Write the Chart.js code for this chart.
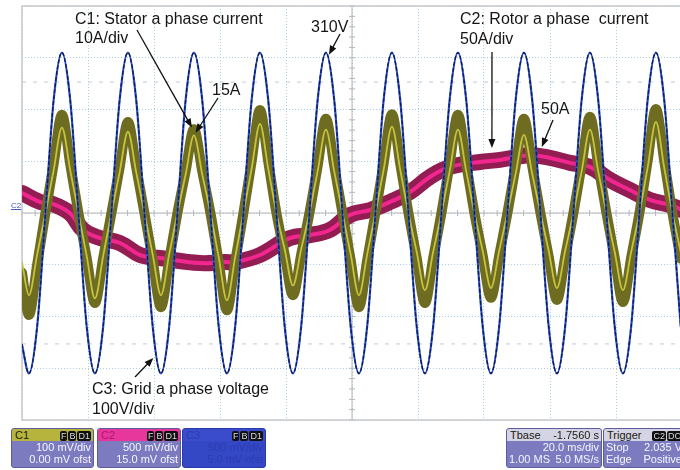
<!DOCTYPE html>
<html>
<head>
<meta charset="utf-8">
<script src="https://cdn.jsdelivr.net/npm/chart.js@4.4.1/dist/chart.umd.min.js"></script>
<style>
  html, body { margin: 0; padding: 0; background: #fff; }
  #wrap { position: relative; width: 680px; height: 470px; overflow: hidden; font-family: "Liberation Sans", Arial, sans-serif; }
  #scope { position: absolute; left: 0; top: 0; }
  .note { position: absolute; font-size: 16px; line-height: 19px; color: #151515; white-space: pre; }
  .mark { position: absolute; left: 11px; top: 201px; font-size: 8px; color: #4656c4; text-decoration: underline; }
  .box { position: absolute; top: 428px; height: 38px; border-radius: 3px; background: #7c7bc0; border: 1px solid #5d5c9c; overflow: hidden; color: #f6f6ff; font-size: 11px; }
  .box .hd { position: relative; height: 12px; line-height: 12px; padding-left: 3px; color: #1c1c10; }
  .box .row { position: relative; height: 12px; line-height: 12px; padding: 0 2px; text-align: right; white-space: nowrap; }
  .box .row:first-of-type { margin-top: 2px; }
  .box .l { position: absolute; left: 2px; }
  .badges { position: absolute; right: 2px; top: 1px; line-height: 10px; }
  .badges span { display: inline-block; background: #111; color: #d8d8d8; border-radius: 2px; padding: 0 1px; font-size: 9px; margin-left: 1px; }
</style>
</head>
<body>
<div id="wrap">
  <canvas id="scope" width="690" height="470"></canvas>

  <div class="note" style="left:75px; top:9px;">C1: Stator a phase current
10A/div</div>
  <div class="note" style="left:311px; top:17px;">310V</div>
  <div class="note" style="left:212px; top:80px;">15A</div>
  <div class="note" style="left:460px; top:9px; line-height:20px;">C2: Rotor a phase  current
50A/div</div>
  <div class="note" style="left:541px; top:99px;">50A</div>
  <div class="note" style="left:92px; top:379px; line-height:20px;">C3: Grid a phase voltage
100V/div</div>
  <div class="mark">C2</div>

  <div class="box" style="left:11px; width:81px;">
    <div class="hd" style="background:#b6b43c;">C1<div class="badges"><span>F</span><span>B</span><span>D1</span></div></div>
    <div class="row">100 mV/div</div>
    <div class="row">0.00 mV ofst</div>
  </div>
  <div class="box" style="left:97px; width:82px;">
    <div class="hd" style="background:#e8379c; color:#b01470;">C2<div class="badges"><span>F</span><span>B</span><span>D1</span></div></div>
    <div class="row">500 mV/div</div>
    <div class="row">15.0 mV ofst</div>
  </div>
  <div class="box" style="left:182px; width:82px; background:#3447c4; border-color:#2a3aa8; color:#2c3db2;">
    <div class="hd" style="background:#3a4ccc; color:#2c3db2;">C3<div class="badges"><span>F</span><span>B</span><span>D1</span></div></div>
    <div class="row">500 mV/div</div>
    <div class="row">5.0 mV ofst</div>
  </div>
  <div class="box" style="left:506px; width:94px;">
    <div class="hd" style="background:#d4d4e4;">Tbase<span style="position:absolute; right:2px;">-1.7560 s</span></div>
    <div class="row">20.0 ms/div</div>
    <div class="row"><span class="l">1.00 MS</span>5.0 MS/s</div>
  </div>
  <div class="box" style="left:603px; width:80px;">
    <div class="hd" style="background:#d4d4e4;">Trigger<div class="badges"><span>C2</span><span>DC</span></div></div>
    <div class="row"><span class="l">Stop</span>2.035 V</div>
    <div class="row"><span class="l">Edge</span>Positive</div>
  </div>
</div>

<script>
// sample instants in ms (20 ms/div, 10 div on screen)
const sampleTimes = [0,
  2.1, 4.6, 7.1, 9.6, 12.1, 14.6, 17.1, 19.6,
  22.1, 24.6, 27.1, 29.6, 32.1, 34.6, 37.1, 39.6,
  42.1, 44.6, 47.1, 49.6, 52.1, 54.6, 57.1, 59.6,
  62.1, 64.6, 67.1, 69.6, 72.1, 74.6, 77.1, 79.6,
  82.1, 84.6, 87.1, 89.6, 92.1, 94.6, 97.1, 99.6,
  102.1, 104.6, 107.1, 109.6, 112.1, 114.6, 117.1, 119.6,
  122.1, 124.6, 127.1, 129.6, 132.1, 134.6, 137.1, 139.6,
  142.1, 144.6, 147.1, 149.6, 152.1, 154.6, 157.1, 159.6,
  162.1, 164.6, 167.1, 169.6, 172.1, 174.6, 177.1, 179.6,
  182.1, 184.6, 187.1, 189.6, 192.1, 194.6, 197.1, 199.6];

// C3 grid a phase voltage (V)
const gridVoltage = [-255,
  -310, -219, 0, 219, 310, 219, 0, -219,
  -310, -219, 0, 219, 310, 219, 0, -219,
  -310, -219, 0, 219, 310, 219, 0, -219,
  -310, -219, 0, 219, 310, 219, 0, -219,
  -310, -219, 0, 219, 310, 219, 0, -219,
  -310, -219, 0, 219, 310, 219, 0, -219,
  -310, -219, 0, 219, 310, 219, 0, -219,
  -310, -219, 0, 219, 310, 219, 0, -219,
  -310, -219, 0, 219, 310, 219, 0, -219,
  -310, -219, 0, 219, 310, 219, 0, -219];

// C1 stator a phase current (A), latest trace
const statorCurrent = [-9.5,
  -15.9, -8.0, 0, 8.3, 16.5, 8.3, 0, -8.3,
  -16.5, -8.3, 0, 7.9, 15.7, 7.9, 0, -8.0,
  -15.9, -8.0, 0, 7.5, 15.0, 7.5, 0, -8.5,
  -16.9, -8.5, 0, 8.6, 17.2, 8.6, 0, -7.0,
  -14.0, -7.0, 0, 8.1, 16.1, 8.1, 0, -8.0,
  -15.9, -8.0, 0, 8.4, 16.7, 8.4, 0, -7.5,
  -14.9, -7.5, 0, 8.1, 16.1, 8.1, 0, -7.3,
  -14.5, -7.3, 0, 7.6, 15.1, 7.6, 0, -7.3,
  -14.5, -7.3, 0, 8.1, 16.1, 8.1, 0, -7.5,
  -14.9, -7.5, 0, 8.8, 17.6, 8.8, 0, -7.5];

// C1 persistence band (A), centre of the noisy envelope
const statorEnvelope = [-11.5,
  -19.7, -9.9, 0, 9.5, 19.0, 9.5, 0, -8.7,
  -17.4, -8.7, 0, 8.8, 17.6, 8.8, 0, -9.1,
  -18.2, -9.1, 0, 8.1, 16.2, 8.1, 0, -9.4,
  -18.8, -9.4, 0, 10.0, 19.9, 10.0, 0, -8.0,
  -15.9, -8.0, 0, 9.1, 18.2, 9.1, 0, -9.1,
  -18.2, -9.1, 0, 9.6, 19.1, 9.6, 0, -8.7,
  -17.4, -8.7, 0, 9.5, 19.0, 9.5, 0, -8.2,
  -16.4, -8.2, 0, 9.1, 18.2, 9.1, 0, -8.4,
  -16.8, -8.4, 0, 9.3, 18.6, 9.3, 0, -8.6,
  -17.2, -8.6, 0, 10.1, 20.1, 10.1, 0, -8.8];

// C2 rotor a phase current (A), slip frequency
const rotorTimes = [0, 5.5, 8.5, 14.5, 18.5, 23.6, 29.7, 35.8, 41.8, 53.9, 61.5, 64.5,
  72.1, 81.2, 87.3, 93.3, 99.4, 105.5, 111.5, 117.6, 123.6, 129.7, 138.8, 144.8,
  153.9, 160.0, 166.1, 172.1, 178.2, 184.2, 190.3, 196.4, 200];
const rotorCurrent = [13.5, 4.8, 3.9, -5.8, -22.2, -30.0, -34.8, -46.4, -49.3, -54.2, -53.2, -53.2,
  -46.4, -30.0, -27.1, -22.2, -7.7, -2.9, 4.8, 14.5, 29.0, 38.7, 43.5, 45.5,
  50.0, 47.4, 42.6, 38.7, 26.1, 16.4, 6.8, 1.9, -2.9];

// cursor levels on C3 (V)
const cursorLevels = [-253, 253];

const zip = (xs, ys) => xs.map((x, i) => ({ x, y: ys[i] }));

// callout arrows: tail in canvas px, head on a trace value
const pointers = [
  { from: [137, 30], t: 51.5, v: 16.5, axis: 'yS' },
  { from: [218, 98], t: 52.6, v: 15.5, axis: 'yS' },
  { from: [340, 34], t: 93.0, v: 306, axis: 'yV' },
  { from: [492, 52], t: 142.4, v: 57, axis: 'yR' },
  { from: [553, 120], t: 157.5, v: 58, axis: 'yR' },
  { from: [135, 377], t: 39.8, v: -280, axis: 'yV' }
];

const scopeScreen = {
  id: 'scopeScreen',
  beforeDatasetsDraw(chart) {
    const { ctx, chartArea: a, scales } = chart;
    const cx = scales.x.getPixelForValue(100);
    const cy = scales.yV.getPixelForValue(0);
    ctx.save();
    ctx.lineWidth = 1;
    ctx.strokeStyle = '#b2b6ba';
    ctx.beginPath();
    ctx.moveTo(a.left, cy); ctx.lineTo(a.right, cy);
    ctx.moveTo(cx, a.top); ctx.lineTo(cx, a.bottom);
    // five minor ticks per division on the centre cross
    for (let t = 0; t <= 200; t += 4) {
      const px = scales.x.getPixelForValue(t);
      ctx.moveTo(px, cy - 3); ctx.lineTo(px, cy + 3);
    }
    for (let v = -400; v <= 400; v += 20) {
      const py = scales.yV.getPixelForValue(v);
      ctx.moveTo(cx - 3, py); ctx.lineTo(cx + 3, py);
    }
    ctx.stroke();

    ctx.setLineDash([4, 7]);
    ctx.strokeStyle = '#c2cad4';
    cursorLevels.forEach(v => {
      const py = scales.yV.getPixelForValue(v);
      ctx.beginPath();
      ctx.moveTo(a.left, py); ctx.lineTo(a.right, py);
      ctx.stroke();
    });
    ctx.setLineDash([]);

    ctx.strokeStyle = '#c6c8ca';
    ctx.lineWidth = 1.5;
    ctx.strokeRect(a.left, a.top, a.width, a.height);
    ctx.restore();
  },
  afterDatasetsDraw(chart) {
    const { ctx, scales } = chart;
    ctx.save();
    ctx.strokeStyle = '#111';
    ctx.fillStyle = '#111';
    ctx.lineWidth = 1.3;
    pointers.forEach(p => {
      const [x0, y0] = p.from;
      const x1 = scales.x.getPixelForValue(p.t);
      const y1 = scales[p.axis].getPixelForValue(p.v);
      const ang = Math.atan2(y1 - y0, x1 - x0);
      ctx.beginPath();
      ctx.moveTo(x0, y0);
      ctx.lineTo(x1 - 6 * Math.cos(ang), y1 - 6 * Math.sin(ang));
      ctx.stroke();
      ctx.beginPath();
      ctx.moveTo(x1, y1);
      ctx.lineTo(x1 - 9 * Math.cos(ang) + 3.5 * Math.sin(ang), y1 - 9 * Math.sin(ang) - 3.5 * Math.cos(ang));
      ctx.lineTo(x1 - 9 * Math.cos(ang) - 3.5 * Math.sin(ang), y1 - 9 * Math.sin(ang) + 3.5 * Math.cos(ang));
      ctx.closePath();
      ctx.fill();
    });
    ctx.restore();
  }
};

const trace = (data, axis, color, width, extra) => Object.assign({
  data, yAxisID: axis, borderColor: color, borderWidth: width,
  pointRadius: 0, cubicInterpolationMode: 'monotone', fill: false,
  borderJoinStyle: 'round', borderCapStyle: 'round'
}, extra || {});

const dottedGrid = {
  color: '#a8d0e8', lineWidth: 1, drawTicks: false
};

new Chart(document.getElementById('scope'), {
  type: 'line',
  data: {
    datasets: [
      trace(zip(sampleTimes, gridVoltage), 'yV', '#0e1c58', 1.4, { borderDash: [3, 3], label: 'C3 dash' }),
      trace(zip(sampleTimes, gridVoltage), 'yV', '#2d52cc', 2.2, { label: 'C3' }),
      trace(zip(sampleTimes, statorCurrent), 'yS', '#c6c33e', 1.8, { label: 'C1' }),
      trace(zip(sampleTimes, statorEnvelope), 'yS', '#6e6c20', 10, { label: 'C1 band' }),
      trace(zip(rotorTimes, rotorCurrent), 'yR', '#f2268f', 4, { label: 'C2', cubicInterpolationMode: 'default', tension: 0.4 }),
      trace(zip(rotorTimes, rotorCurrent), 'yR', '#931d52', 16, { label: 'C2 band', cubicInterpolationMode: 'default', tension: 0.4 })
    ]
  },
  options: {
    responsive: false,
    animation: false,
    layout: { padding: { left: 22, top: 6, right: 8, bottom: 50 } },
    plugins: { legend: { display: false }, tooltip: { enabled: false } },
    scales: {
      x: {
        type: 'linear', min: 0, max: 200,
        ticks: { display: false, stepSize: 20 },
        grid: dottedGrid,
        border: { display: false, dash: [1, 2] }
      },
      yV: {
        position: 'left', min: -400, max: 400,
        ticks: { display: false, stepSize: 100 },
        grid: dottedGrid,
        border: { display: false, dash: [1, 2] }
      },
      yS: { display: false, min: -40, max: 40 },
      yR: { display: false, min: -205.8, max: 194.2 }
    }
  },
  plugins: [scopeScreen]
});
</script>
</body>
</html>
